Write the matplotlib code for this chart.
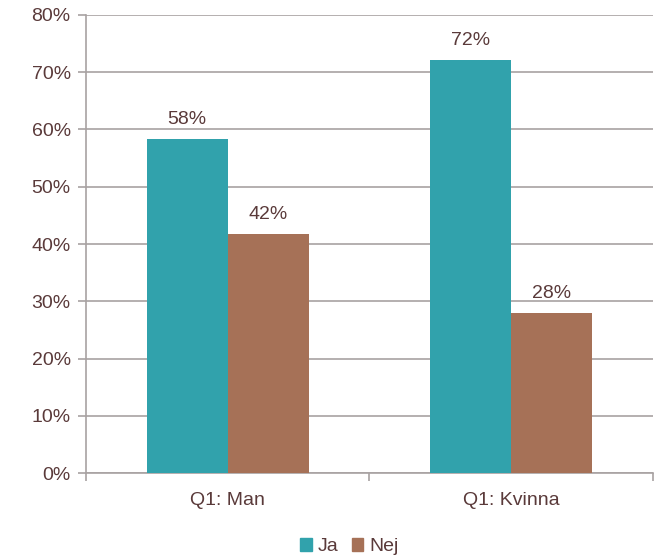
import matplotlib
matplotlib.use("Agg")
import matplotlib.pyplot as plt
from matplotlib.patches import Patch
import numpy as np

plt.rcParams["font.family"] = ["Liberation Sans", "DejaVu Sans"]

# Données
categories = ["Q1: Man", "Q1: Kvinna"]
ja_values = [58.3, 72.1]
nej_values = [41.7, 27.9]
ja_labels = ["58%", "72%"]
nej_labels = ["42%", "28%"]
series_names = ["Ja", "Nej"]

TEXT_COLOR = "#5a3a3a"
GRID_COLOR = "#a8a2a2"
JA_COLOR = "#31a2ac"
NEJ_COLOR = "#a67157"
FS = 14

fig = plt.figure(figsize=(6.59, 5.59), dpi=100)
ax = fig.add_axes([0.1305, 0.1538, 0.860, 0.8194])

x = np.arange(len(categories))
width = 0.2857
bars_ja = ax.bar(x - width / 2, ja_values, width, color=JA_COLOR, zorder=3)
bars_nej = ax.bar(x + width / 2, nej_values, width, color=NEJ_COLOR, zorder=3)

for bar, label in zip(bars_ja, ja_labels):
    ax.text(bar.get_x() + bar.get_width() / 2, bar.get_height() + 2.0, label,
            ha="center", va="bottom", fontsize=FS, color=TEXT_COLOR)
for bar, label in zip(bars_nej, nej_labels):
    ax.text(bar.get_x() + bar.get_width() / 2, bar.get_height() + 2.0, label,
            ha="center", va="bottom", fontsize=FS, color=TEXT_COLOR)

ax.set_xlim(-0.5, len(categories) - 0.5)
ax.set_ylim(0, 80)
ax.set_yticks(np.arange(0, 81, 10))
ax.set_yticklabels([f"{v}%" for v in range(0, 81, 10)])
ax.set_xticks(x)
ax.set_xticklabels(categories)
ax.set_xticks(np.arange(-0.5, len(categories), 1.0), minor=True)

ax.tick_params(axis="y", length=6, width=1.2, color=GRID_COLOR,
               labelsize=FS, labelcolor=TEXT_COLOR, pad=5)
ax.tick_params(axis="x", which="major", length=0, labelsize=FS,
               labelcolor=TEXT_COLOR, pad=14)
ax.tick_params(axis="x", which="minor", length=6, width=1.2, color=GRID_COLOR)

ax.grid(axis="y", color=GRID_COLOR, linewidth=1.2, zorder=0)
for side in ["top", "right"]:
    ax.spines[side].set_visible(False)
for side in ["left", "bottom"]:
    ax.spines[side].set_color(GRID_COLOR)
    ax.spines[side].set_linewidth(1.2)

handles = [Patch(color=JA_COLOR), Patch(color=NEJ_COLOR)]
fig.legend(handles, series_names, loc="center", bbox_to_anchor=(0.53, 0.022),
           ncol=2, frameon=False, fontsize=FS, labelcolor=TEXT_COLOR,
           handlelength=0.6, handleheight=0.6, handletextpad=0.3, columnspacing=0.7)

fig.savefig("out.png", dpi=100)
